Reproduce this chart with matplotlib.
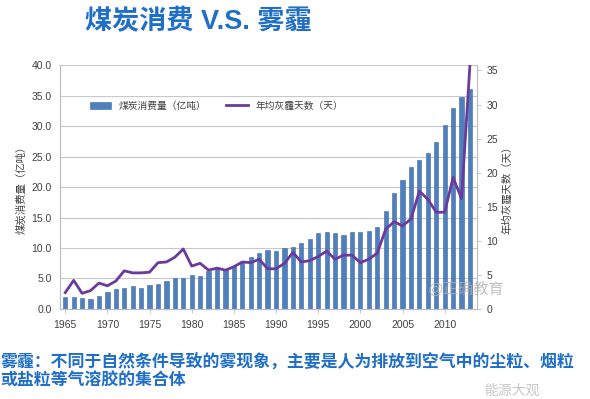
import matplotlib
matplotlib.use('Agg')
import matplotlib.pyplot as plt

plt.rcParams['font.family'] = ['Liberation Sans', 'Noto Sans CJK SC', 'DejaVu Sans']

years = list(range(1965, 2014))

# coal consumption, 100 million tonnes (left axis)
coal = [1.9, 1.9, 1.75, 1.65, 2.1, 2.8, 3.3, 3.5, 3.7, 3.5,
        4.0, 4.1, 4.6, 5.0, 5.1, 5.5, 5.4, 6.2, 6.7, 6.6,
        7.0, 7.7, 8.6, 9.2, 9.7, 9.5, 10.0, 10.1, 10.8, 11.4,
        12.5, 12.6, 12.5, 12.1, 12.6, 12.7, 12.8, 13.5, 16.1, 19.0,
        21.1, 23.3, 24.5, 25.5, 27.4, 30.1, 32.9, 34.8, 36.0]

# average haze days per year (right axis)
haze = [2.4, 4.2, 2.3, 2.7, 3.8, 3.4, 4.1, 5.6, 5.3, 5.3,
        5.4, 6.8, 6.9, 7.6, 8.8, 6.3, 6.7, 5.7, 6.0, 5.7,
        6.2, 6.9, 6.8, 7.3, 5.9, 5.9, 6.7, 8.3, 6.9, 7.1,
        7.7, 8.5, 7.3, 7.9, 7.9, 6.8, 7.3, 8.2, 11.7, 12.8,
        12.2, 13.2, 17.3, 16.1, 14.2, 14.2, 19.3, 16.2, 35.9]

left_ticks = [0, 5, 10, 15, 20, 25, 30, 35, 40]
right_ticks = [0, 5, 10, 15, 20, 25, 30, 35]
year_ticks = [1965, 1970, 1975, 1980, 1985, 1990, 1995, 2000, 2005, 2010]

bar_color = '#4f7fbd'
line_color = '#6a3a9c'
text_color = '#404040'
blue_text = '#1f6fc8'

fig = plt.figure(figsize=(5.9, 3.99), dpi=100)
fig.patch.set_facecolor('white')
ax = fig.add_axes([0.102, 0.2256, 0.706, 0.6114])
ax2 = ax.twinx()

bars = ax.bar(years, coal, width=0.5, color=bar_color, edgecolor='#3d6aa3', linewidth=0.4,
              label='煤炭消费量（亿吨）', zorder=2)
line, = ax2.plot(years, haze, color=line_color, lw=2, label='年均灰霾天数（天）', zorder=3)

ax.set_xlim(1964.4, 2013.8)
ax.set_ylim(0, 40)
ax2.set_ylim(0, 35.8)
ax.set_yticks(left_ticks)
ax.set_yticklabels(['%.1f' % v for v in left_ticks])
ax2.set_yticks(right_ticks)
ax.set_xticks(year_ticks)
ax.set_xticklabels([str(y) for y in year_ticks])

ax.yaxis.grid(True, color='#c8c8c8', lw=0.8, zorder=0)
ax.set_axisbelow(True)

for a in (ax, ax2):
    a.spines['top'].set_visible(False)
    for s in ('left', 'right', 'bottom'):
        a.spines[s].set_color('#bfbfbf')
        a.spines[s].set_linewidth(0.8)
    a.tick_params(colors=text_color, labelsize=7.5, length=3, width=0.6)
ax.tick_params(axis='y', length=0, pad=6)
ax.tick_params(axis='x', colors='#bfbfbf', labelcolor=text_color, pad=5)
ax2.tick_params(axis='y', colors='#bfbfbf', labelcolor=text_color, pad=4)

ax.set_ylabel('煤炭消费量（亿吨）', fontsize=7.5, color=text_color, labelpad=4)
ax2.set_ylabel('年均灰霾天数（天）', fontsize=7.5, color=text_color, rotation=90, labelpad=3)

ax.legend(handles=[bars, line], loc='upper left', bbox_to_anchor=(0.05, 0.89), ncol=2,
          frameon=False, fontsize=7, handlelength=2.2, columnspacing=2.0,
          labelcolor=text_color)

fig.text(0.144, 0.945, '煤炭消费 V.S. 雾霾', fontsize=19.5, fontweight='bold',
         color=blue_text, ha='left', va='center')

fig.text(0.79, 0.278, '@正确教育', fontsize=11, color='#b0b0b0', ha='center', va='center',
         alpha=0.8)

fig.text(0.0, 0.092, '雾霾：不同于自然条件导致的雾现象，主要是人为排放到空气中的尘粒、烟粒',
         fontsize=12.2, fontweight='bold', color=blue_text, ha='left', va='center')
fig.text(0.0, 0.045, '或盐粒等气溶胶的集合体',
         fontsize=12.2, fontweight='bold', color=blue_text, ha='left', va='center')
fig.text(0.82, 0.003, '能源大观', fontsize=10, color='#c8c8c8', ha='left', va='bottom')

fig.savefig('out.png', dpi=100, facecolor='white')
